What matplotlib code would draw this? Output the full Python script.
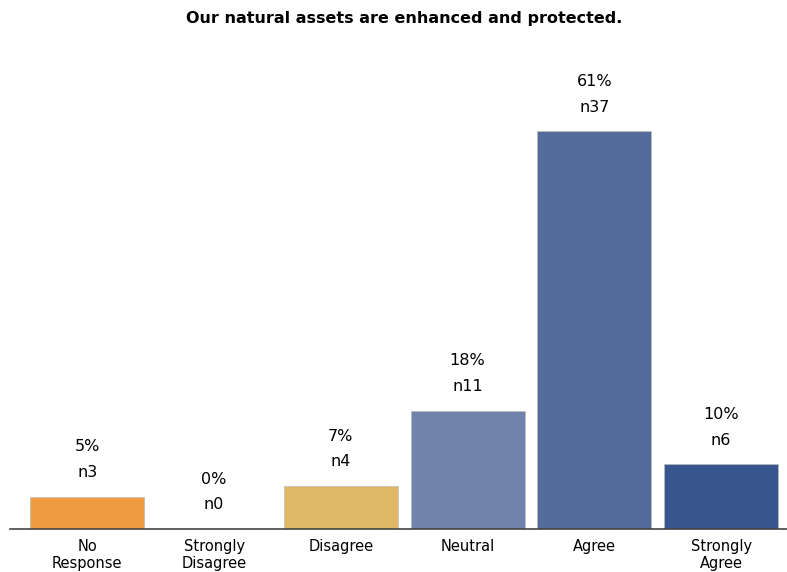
import numpy as np
import matplotlib
matplotlib.use("Agg")
import matplotlib.pyplot as plt

categories = ["No\nResponse", "Strongly\nDisagree", "Disagree", "Neutral", "Agree", "Strongly\nAgree"]
counts = [3, 0, 4, 11, 37, 6]
percents = [5, 0, 7, 18, 61, 10]
colors = ["#EE9C3F", "#F0F0F0", "#E0B865", "#7083AB", "#546C9C", "#38558E"]

fig = plt.figure(figsize=(7.87, 5.72), dpi=100)
ax = fig.add_axes([0.0127, 0.0752, 0.9873, 0.846])

x = np.arange(len(categories))
ax.bar(x, counts, width=0.9, color=colors, edgecolor="#BBBBBB", linewidth=0.5)

# labels above each bar
px_per_unit = 10.76
for xi, c, p in zip(x, counts, percents):
    ax.text(xi, c + 24 / px_per_unit, f"n{c}", ha="center", va="center", fontsize=11.5)
    ax.text(xi, c + 50 / px_per_unit, f"{p}%", ha="center", va="center", fontsize=11.5)

ax.set_xlim(-0.61, 5.52)
ax.set_ylim(0, 45)
ax.set_xticks(x)
ax.set_xticklabels(categories, fontsize=10.5, linespacing=1.15)
ax.tick_params(axis="x", length=0, pad=7)
ax.set_yticks([])
for s in ["top", "right", "left"]:
    ax.spines[s].set_visible(False)
ax.spines["bottom"].set_color("#444444")
ax.spines["bottom"].set_linewidth(1.2)

fig.text(0.513, 0.968, "Our natural assets are enhanced and protected.", ha="center", va="center",
         fontsize=11.5, fontweight="bold")

fig.savefig("out.png", dpi=100)
